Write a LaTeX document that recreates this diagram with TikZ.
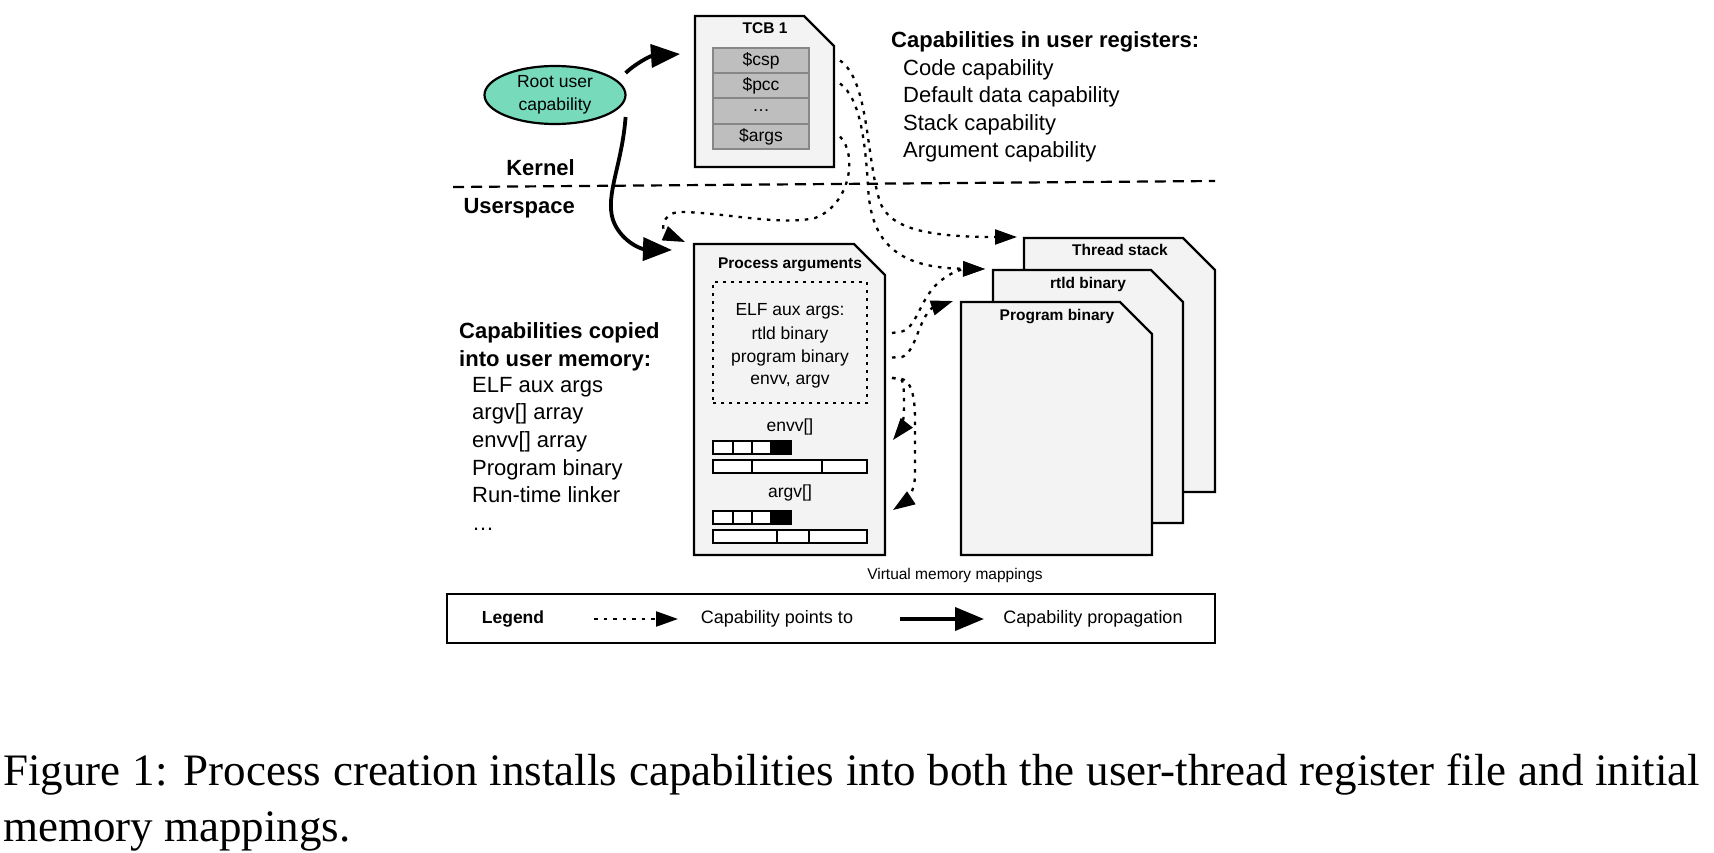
\documentclass[tikz,border=0pt]{standalone}
\usepackage{fontspec}
\setmainfont{Liberation Sans}
\newfontfamily\capfont{Liberation Serif}
\usetikzlibrary{arrows.meta,calc,shapes.geometric}
\newcommand\fsz[1]{\fontsize{#1}{#1}\selectfont}
\definecolor{pagegray}{RGB}{243,243,243}
\definecolor{cellgray}{RGB}{190,190,190}
\definecolor{cellborder}{RGB}{135,135,135}
\definecolor{rootgreen}{RGB}{118,218,187}
\newcommand\foldbox[2]{%
  \draw[pagebox] (#1.south west) -- (#1.north west) -- ($(#1.north east)+(-#2,0)$)
    -- ($(#1.north east)+(0,#2)$) -- (#1.south east) -- cycle;}
\begin{document}
\begin{tikzpicture}[x=1pt,y=-1pt,
  pagebox/.style={draw=black,line width=2.2pt,fill=pagegray,line join=miter},
  box/.style={inner sep=0pt,outer sep=0pt,draw=none},
  cell/.style={draw=cellborder,fill=cellgray,line width=1.8pt,minimum width=96pt,
    minimum height=25pt,inner sep=0pt,font=\fsz{17.5}},
  lbl/.style={font=\bfseries\fsz{15.5},anchor=base,inner sep=0pt},
  txt/.style={anchor=base west,inner sep=0pt,font=\fsz{22}},
  hd/.style={anchor=base west,inner sep=0pt,font=\bfseries\fsz{22}},
  mid/.style={anchor=base,inner sep=0pt,font=\fsz{17.5}},
  barcell/.style={draw=black,line width=1.8pt,fill=white},
  ptr/.style={line width=2.3pt,dash pattern=on 3.5pt off 6pt,
    -{Triangle[length=22pt,width=15pt]}},
  prop/.style={line width=3.8pt,-{Triangle[length=29pt,width=23pt]}},
  kline/.style={line width=2.2pt,dash pattern=on 11pt off 7pt}]
\useasboundingbox (0,0) rectangle (1714,853);

% kernel / userspace separator
\coordinate (kl) at (453,187);
\coordinate (kr) at (1215,181);
\draw[kline] (kl) -- (kr);
\node[anchor=base east,inner sep=0pt,font=\bfseries\fsz{22}] (kernel) at (575,176) {Kernel};
\node[anchor=base east,inner sep=0pt,font=\bfseries\fsz{22}] (userspace) at (575,214) {Userspace};

% TCB
\node[box,minimum width=139pt,minimum height=151pt] (tcb) at (764.5,91.5) {};
\foldbox{tcb}{30}
\node[lbl] (tcbl) at (765,34) {TCB 1};
\node[cell] (csp) at (761,60.5) {\$csp};
\node[cell] (pcc) at (761,85.5) {\$pcc};
\node[cell] (rdots) at (761,111) {…};
\node[cell] (args) at (761,136.5) {\$args};

% root capability
\node[draw=black,ellipse,fill=rootgreen,line width=2.2pt,minimum width=141pt,
  minimum height=58pt,inner sep=0pt,align=center,font=\fontsize{17.5}{23}\selectfont]
  (root) at (555,95) {Root user\\capability};

% register capabilities text
\node[hd] (hregs) at (891,48) {Capabilities in user registers:};
\node[txt] (r1) at (903,76) {Code capability};
\node[txt] (r2) at (903,103) {Default data capability};
\node[txt] (r3) at (903,131) {Stack capability};
\node[txt] (r4) at (903,158) {Argument capability};

% memory capabilities text
\node[hd] (hmem1) at (459,338) {Capabilities copied};
\node[hd] (hmem2) at (459,366) {into user memory:};
\node[txt] (m1) at (472,392) {ELF aux args};
\node[txt] (m2) at (472,419) {argv[] array};
\node[txt] (m3) at (472,447) {envv[] array};
\node[txt] (m4) at (472,475) {Program binary};
\node[txt] (m5) at (472,502) {Run-time linker};
\node[txt] (m6) at (472,530) {…};

% process arguments
\node[box,minimum width=191pt,minimum height=311pt] (proc) at (789.5,399.5) {};
\foldbox{proc}{31}
\node[lbl] (procl) at (790,269) {Process arguments};
\node[draw=black,dash pattern=on 3pt off 5pt,line width=1.8pt,minimum width=154pt,
  minimum height=121pt,inner sep=0pt] (elf) at (790,342.5) {};
\node[mid] (e1) at (790,316) {ELF aux args:};
\node[mid] (e2) at (790,339) {rtld binary};
\node[mid] (e3) at (790,362) {program binary};
\node[mid] (e4) at (790,384) {envv, argv};
\node[mid] (envv) at (790,431) {envv[]};
\node[mid] (argv) at (790,497) {argv[]};
% envv bars
\draw[barcell] (713,441) rectangle (733,454);
\draw[barcell] (733,441) rectangle (752,454);
\draw[barcell] (752,441) rectangle (771,454);
\draw[barcell,fill=black] (771,441) rectangle (791,454);
\draw[barcell] (713,460) rectangle (752,473);
\draw[barcell] (752,460) rectangle (822,473);
\draw[barcell] (822,460) rectangle (867,473);
% argv bars
\draw[barcell] (713,511) rectangle (733,524);
\draw[barcell] (733,511) rectangle (752,524);
\draw[barcell] (752,511) rectangle (771,524);
\draw[barcell,fill=black] (771,511) rectangle (791,524);
\draw[barcell] (713,530) rectangle (777,543);
\draw[barcell] (777,530) rectangle (809,543);
\draw[barcell] (809,530) rectangle (867,543);

% virtual memory mappings
\node[box,minimum width=191pt,minimum height=254pt] (thread) at (1119.5,365) {};
\node[box,minimum width=190pt,minimum height=253pt] (rtld) at (1088,396.5) {};
\node[box,minimum width=191pt,minimum height=253pt] (prog) at (1056.5,428.5) {};
\foldbox{thread}{32}
\node[lbl] (threadl) at (1120,256) {Thread stack};
\foldbox{rtld}{32}
\node[lbl] (rtldl) at (1088,288) {rtld binary};
\foldbox{prog}{32}
\node[lbl] (progl) at (1057,320) {Program binary};
\node[inner sep=0pt,font=\fsz{15.5}] (vmm) at (955,575) {Virtual memory mappings};

% capability propagation
\draw[prop] ($(root.east)+(-1,-22)$) .. controls (635,64) and (650,56) .. ($(tcb.west)+(-15,-37.5)$);
\draw[prop] ($(root.east)+(-1,22)$) .. controls (622,165) and (605,195) .. (613,220)
  .. controls (620,240) and (640,249) .. ($(proc.north west)+(-22,6)$);

% capability pointers
\draw[ptr] ($(tcb.east |- csp.east)+(6,0)$) .. controls (868,80) and (866,150) .. (878,195)
  .. controls (884,225) and (915,237) .. ($(thread.north west)+(-7,-1)$);
\draw[ptr] ($(tcb.east |- pcc.east)+(6,-2)$) .. controls (860,98) and (865,140) .. (868,185)
  .. controls (870,245) and (900,268) .. ($(rtld.north west)+(-8,-1)$);
\draw[ptr] ($(tcb.east |- args.east)+(6,0)$) .. controls (858,155) and (850,205) .. (815,218)
  .. controls (780,226) and (720,212) .. (680,212)
  .. controls (660,213) and (662,232) .. ($(proc.north west)+(-9,-2)$);
\draw[ptr] ($(proc.east)+(7,-66.5)$) -- (902,331.5) .. controls (918,327) and (920,295) .. (943,279)
  .. controls (955,270) and (965,269) .. ($(rtld.north west)+(-8,-1)$);
\draw[ptr] ($(proc.east)+(7,-42)$) -- (902,357) .. controls (916,352) and (918,320) .. (932,308)
  -- ($(prog.north west)+(-8,-1)$);
\draw[ptr] ($(proc.east)+(7,-21.5)$) -- (900,378.5) .. controls (904,380) and (904,392) .. (904,405)
  .. controls (904,420) and (901,430) .. ($(proc.east)+(8,40.5)$);
\draw[ptr] ($(proc.east)+(7,-21.5)$) -- (900,378.5) .. controls (911,380) and (915,395) .. (915,420)
  -- (915,475) .. controls (915,492) and (905,502) .. ($(proc.east)+(8,110.5)$);

% legend
\node[draw=black,line width=2pt,minimum width=767.5pt,minimum height=49pt,inner sep=0pt]
  (legend) at (830.75,618.5) {};
\node[inner sep=0pt,font=\bfseries\fsz{17.5}] (legendl) at (513,619) {Legend};
\coordinate (lp1) at (594,619);
\coordinate (lp2) at (678,619);
\draw[ptr] (lp1) -- (lp2);
\node[inner sep=0pt,font=\fsz{18}] (lpt) at (777,619) {Capability points to};
\coordinate (lq1) at (900,619);
\coordinate (lq2) at (984,619);
\draw[prop] (lq1) -- (lq2);
\node[inner sep=0pt,font=\fsz{18}] (lqt) at (1093,619) {Capability propagation};

% caption
\node[anchor=base west,inner sep=0pt,font=\capfont\fsz{45}] (cap1) at (3,785)
  {\makebox[1697pt][s]{Figure 1: Process creation installs capabilities into both the user-thread register file and initial}};
\node[anchor=base west,inner sep=0pt,font=\capfont\fsz{45}] (cap2) at (3,841.5) {memory mappings.};
\end{tikzpicture}
\end{document}
